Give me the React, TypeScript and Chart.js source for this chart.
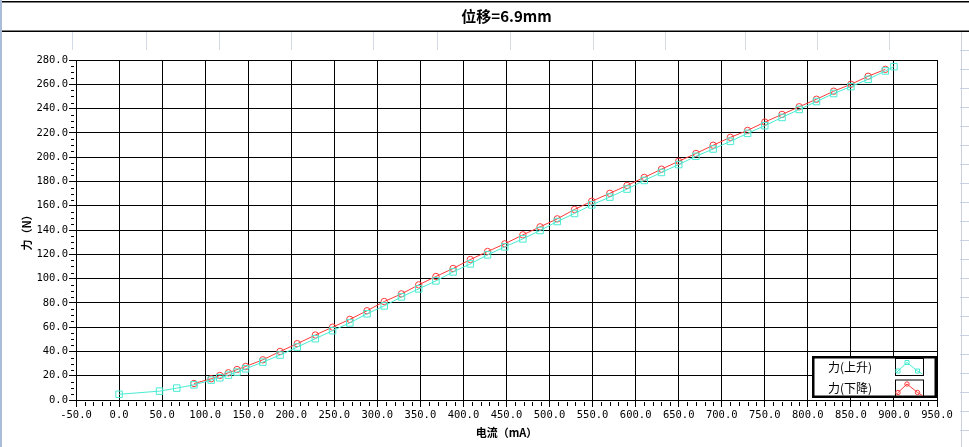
import React, { useEffect, useRef } from 'react';
import { Chart, registerables } from 'chart.js';

Chart.register(...registerables);

// ---- data ----
const chartTitle = '位移=6.9mm';
const xAxisTitle = '电流（mA）';
const yAxisTitle = '力（N）';
const seriesUpLabel = '力(上升)';
const seriesDownLabel = '力(下降)';

const currentUp = [
  0, 47, 67, 87, 107, 117, 127, 137, 147, 167, 187, 207, 228, 248, 268, 288, 308, 328, 348, 368,
  388, 408, 428, 448, 469, 489, 509, 529, 549, 570, 590, 610, 630, 650, 670, 690, 710, 730, 750,
  770, 790, 810, 830, 850, 870, 890, 900,
];
const forceUp = [
  4.7, 7.3, 9.8, 12.5, 16.4, 18.3, 20.5, 23.0, 25.7, 31.2, 37.0, 43.6, 50.5, 57.1, 63.5, 71.0,
  77.5, 84.9, 91.5, 98.1, 105.5, 112.1, 119.5, 126.1, 132.7, 139.6, 147.0, 153.6, 160.7, 167.1,
  173.7, 180.8, 187.4, 193.9, 200.7, 206.7, 213.0, 219.6, 225.9, 232.7, 239.3, 245.8, 252.4,
  258.1, 264.1, 271.0, 274.5,
];
const currentDown = [
  87, 107, 117, 127, 137, 147, 167, 187, 207, 228, 248, 268, 288, 308, 328, 348, 368, 388, 408,
  428, 448, 469, 489, 509, 529, 549, 570, 590, 610, 630, 650, 670, 690, 710, 730, 750, 770, 790,
  810, 830, 850, 870, 890,
];
const forceDown = [
  13.6, 17.5, 20.2, 22.4, 25.1, 27.6, 33.1, 40.0, 46.4, 53.5, 60.0, 66.4, 73.5, 81.1, 87.4, 94.8,
  101.7, 108.3, 115.7, 122.3, 128.6, 136.0, 142.6, 149.2, 156.9, 163.7, 170.2, 176.7, 183.3,
  190.1, 196.6, 203.0, 209.8, 216.3, 222.0, 228.9, 235.2, 241.5, 247.7, 254.3, 260.0, 266.6, 272.3,
];

const X_MIN = -50;
const X_MAX = 950;
const X_MAJOR = 50;
const X_MINOR = 10;
const Y_MIN = 0;
const Y_MAX = 280;
const Y_MAJOR = 20;
const Y_MINOR = 5;

const CYAN = '#48ecd2';
const RED = '#ff3a3a';
const TICK_FONT = "'DejaVu Sans Mono', monospace";
const CJK_FONT = "'Noto Sans CJK SC', sans-serif";

const framePlugin = {
  id: 'frame',
  beforeDraw(chart: any) {
    const { ctx, width, height } = chart;
    ctx.save();
    ctx.fillStyle = '#ffffff';
    ctx.fillRect(0, 0, width, height);
    // left light-blue edge
    ctx.fillStyle = '#a9bcd8';
    ctx.fillRect(0, 0, 2, height);
    // title band lines
    ctx.fillStyle = '#000000';
    ctx.fillRect(2, 1, width - 2, 1.5);
    ctx.fillRect(2, 30.5, width - 2, 1.5);
    // top ruler
    ctx.strokeStyle = '#d4dae4';
    ctx.lineWidth = 1;
    const rx = [72, 146, 219, 291, 373, 437, 510, 593, 665, 745, 817, 889];
    rx.forEach((x) => {
      ctx.beginPath();
      ctx.moveTo(x + 0.5, 32);
      ctx.lineTo(x + 0.5, 50);
      ctx.stroke();
    });
    // right ruler
    ctx.strokeStyle = '#c8d2e2';
    ctx.beginPath();
    ctx.moveTo(961.5, 32);
    ctx.lineTo(961.5, height);
    ctx.stroke();
    for (let y = 50; y < height; y += 19) {
      ctx.beginPath();
      ctx.moveTo(960, y + 0.5);
      ctx.lineTo(width, y + 0.5);
      ctx.stroke();
    }
    ctx.restore();
  },
};

const minorTickPlugin = {
  id: 'minorTicks',
  afterDraw(chart: any) {
    const { ctx, chartArea, scales } = chart;
    ctx.save();
    ctx.strokeStyle = '#000';
    ctx.lineWidth = 1;
    for (let v = X_MIN; v <= X_MAX; v += X_MINOR) {
      if (v % X_MAJOR === 0) continue;
      const px = Math.round(scales.x.getPixelForValue(v)) + 0.5;
      ctx.beginPath();
      ctx.moveTo(px, chartArea.bottom + 2);
      ctx.lineTo(px, chartArea.bottom + 6);
      ctx.stroke();
    }
    for (let v = Y_MIN; v <= Y_MAX; v += Y_MINOR) {
      if (v % Y_MAJOR === 0) continue;
      const py = Math.round(scales.y.getPixelForValue(v)) + 0.5;
      ctx.beginPath();
      ctx.moveTo(chartArea.left - 5, py);
      ctx.lineTo(chartArea.left - 2, py);
      ctx.stroke();
    }
    ctx.restore();
  },
};

const boxLegendPlugin = {
  id: 'boxLegend',
  afterDraw(chart: any) {
    const { ctx, chartArea } = chart;
    const ds = chart.data.datasets;
    const w = 125;
    const h = 42;
    const x0 = chartArea.right - w;
    const y0 = chartArea.bottom - 2 - h;
    ctx.save();
    ctx.fillStyle = '#fff';
    ctx.fillRect(x0, y0, w, h);
    ctx.strokeStyle = '#000';
    ctx.lineWidth = 2.5;
    ctx.strokeRect(x0 + 1.25, y0 + 1.25, w - 2.5, h - 2.5);
    ds.forEach((d: any, i: number) => {
      const cy = y0 + 11 + i * 21.5;
      ctx.fillStyle = '#000';
      ctx.font = `12px ${CJK_FONT}`;
      ctx.textBaseline = 'middle';
      ctx.textAlign = 'left';
      ctx.fillText(d.label, x0 + 16, cy);
      const bx = x0 + 83.5;
      const by = cy - 8.5;
      ctx.lineWidth = 1;
      ctx.strokeStyle = '#000';
      ctx.strokeRect(bx, by, 28, 17);
      const pts = [
        [bx + 2.5, by + 12.5],
        [bx + 11.5, by + 4],
        [bx + 22, by + 12.5],
      ];
      ctx.strokeStyle = d.borderColor;
      ctx.beginPath();
      ctx.moveTo(bx + 1, by + 14);
      pts.forEach((p) => ctx.lineTo(p[0], p[1]));
      ctx.lineTo(bx + 27, by + 15.5);
      ctx.stroke();
      pts.forEach((p) => {
        ctx.beginPath();
        if (d.pointStyle === 'rect') {
          ctx.rect(p[0] - 2, p[1] - 2, 4, 4);
        } else {
          ctx.arc(p[0], p[1], 2.2, 0, Math.PI * 2);
        }
        ctx.stroke();
      });
    });
    ctx.restore();
  },
};

export default function App() {
  const canvasRef = useRef<HTMLCanvasElement | null>(null);

  useEffect(() => {
    if (!canvasRef.current) return;
    const chart = new Chart(canvasRef.current, {
      type: 'line',
      data: {
        datasets: [
          {
            label: seriesUpLabel,
            data: currentUp.map((x, i) => ({ x, y: forceUp[i] })),
            borderColor: CYAN,
            borderWidth: 1,
            pointStyle: 'rect',
            pointRadius: 4.6,
            pointBorderColor: CYAN,
            pointBorderWidth: 1,
            pointBackgroundColor: 'rgba(0,0,0,0)',
            tension: 0,
          },
          {
            label: seriesDownLabel,
            data: currentDown.map((x, i) => ({ x, y: forceDown[i] })),
            borderColor: RED,
            borderWidth: 1,
            pointStyle: 'circle',
            pointRadius: 3.2,
            pointBorderColor: RED,
            pointBorderWidth: 1,
            pointBackgroundColor: 'rgba(0,0,0,0)',
            tension: 0,
          },
        ],
      } as any,
      options: {
        animation: false,
        responsive: false,
        maintainAspectRatio: false,
        devicePixelRatio: 1,
        layout: { padding: { left: 0, right: 32, top: 0, bottom: 0 } },
        plugins: {
          legend: { display: false },
          tooltip: { enabled: false },
          title: {
            display: true,
            text: chartTitle,
            fullSize: false,
            color: '#000',
            font: { family: CJK_FONT, size: 15, weight: 'bold' },
            padding: { top: 7, bottom: 35 },
          },
        },
        scales: {
          x: {
            type: 'linear',
            min: X_MIN,
            max: X_MAX,
            afterFit: (s: any) => {
              s.height = 47;
            },
            ticks: {
              stepSize: X_MAJOR,
              autoSkip: false,
              maxRotation: 0,
              padding: 2,
              color: '#000',
              font: { family: TICK_FONT, size: 10.5 },
              callback: (v: any) => Number(v).toFixed(1),
            },
            grid: { color: '#000', lineWidth: 1, tickLength: 7, tickColor: '#000' },
            border: { color: '#000', width: 1 },
            title: {
              display: true,
              text: xAxisTitle,
              color: '#000',
              font: { family: CJK_FONT, size: 11, weight: 'bold' },
              padding: { top: 0, bottom: 8 },
            },
          },
          y: {
            type: 'linear',
            min: Y_MIN,
            max: Y_MAX,
            afterFit: (s: any) => {
              s.width = 76;
            },
            ticks: {
              stepSize: Y_MAJOR,
              autoSkip: false,
              padding: 1,
              color: '#000',
              font: { family: TICK_FONT, size: 10.5 },
              callback: (v: any) => Number(v).toFixed(1),
            },
            grid: { color: '#000', lineWidth: 1, tickLength: 7, tickColor: '#000' },
            border: { color: '#000', width: 1 },
            title: {
              display: true,
              text: yAxisTitle,
              color: '#000',
              font: { family: CJK_FONT, size: 11, weight: 'bold' },
              padding: { top: 20, bottom: 0 },
            },
          },
        },
      } as any,
      plugins: [framePlugin, minorTickPlugin, boxLegendPlugin],
    });
    return () => chart.destroy();
  }, []);

  return (
    <div style={{ position: 'absolute', left: 0, top: 0, width: 969, height: 447 }}>
      <canvas ref={canvasRef} width={969} height={447} style={{ display: 'block', width: 969, height: 447 }} />
    </div>
  );
}
